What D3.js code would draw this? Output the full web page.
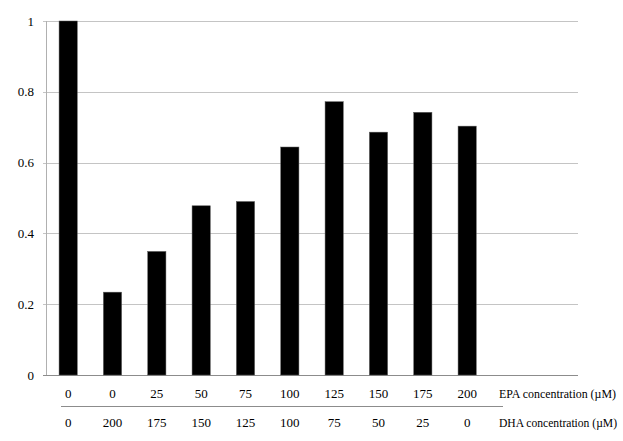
<!DOCTYPE html>
<html>
<head>
<meta charset="utf-8">
<script src="https://cdn.jsdelivr.net/npm/d3@7"></script>
</head>
<body style="margin:0">
<script>
// Data
const epa = ["0", "0", "25", "50", "75", "100", "125", "150", "175", "200"];
const dha = ["0", "200", "175", "150", "125", "100", "75", "50", "25", "0"];
const values = [1.0, 0.234, 0.349, 0.478, 0.490, 0.644, 0.772, 0.686, 0.742, 0.703];
const yTicks = [0, 0.2, 0.4, 0.6, 0.8, 1];

const width = 623, height = 441;
const plotLeft = 46, plotRight = 578, plotTop = 21, plotBottom = 375;
const font = '"Liberation Serif", "Times New Roman", serif';

const svg = d3.select("body").append("svg")
    .attr("width", width)
    .attr("height", height)
    .style("display", "block");

// 12 bands, only the first 10 hold bars
const slots = d3.range(12);
const x = d3.scaleBand().domain(slots).range([plotLeft, plotRight]).paddingInner(0.59).paddingOuter(0.295);
const y = d3.scaleLinear().domain([0, 1]).range([plotBottom, plotTop]);

// Grid lines
svg.append("g")
    .selectAll("line")
    .data(yTicks)
    .join("line")
    .attr("x1", plotLeft - 3)
    .attr("x2", plotRight)
    .attr("y1", d => Math.round(y(d)) + 0.5)
    .attr("y2", d => Math.round(y(d)) + 0.5)
    .attr("stroke", d => d === 0 ? "#8c8c8c" : "#c4c4c4")
    .attr("stroke-width", 1);

// Y axis line
svg.append("line")
    .attr("x1", plotLeft + 0.5).attr("x2", plotLeft + 0.5)
    .attr("y1", y(1)).attr("y2", y(0))
    .attr("stroke", "#b0b0b0");

// Y tick labels
svg.append("g")
    .selectAll("text")
    .data(yTicks)
    .join("text")
    .attr("x", 34)
    .attr("y", d => y(d))
    .attr("dy", "0.35em")
    .attr("text-anchor", "end")
    .attr("font-size", 13)
    .style("font-family", font)
    .text(d => d3.format("~g")(d));

// Bars
svg.append("g")
    .selectAll("rect")
    .data(values)
    .join("rect")
    .attr("x", (d, i) => x(i))
    .attr("width", x.bandwidth())
    .attr("y", d => y(d))
    .attr("height", d => y(0) - y(d))
    .attr("fill", "#000")
    .attr("stroke", "#555")
    .attr("stroke-width", 0.5);

// EPA row
svg.append("g")
    .selectAll("text")
    .data(epa)
    .join("text")
    .attr("x", (d, i) => x(i) + x.bandwidth() / 2)
    .attr("y", 398)
    .attr("text-anchor", "middle")
    .attr("font-size", 13)
    .style("font-family", font)
    .text(d => d);

// separator line between rows
svg.append("line")
    .attr("x1", 61).attr("x2", 503)
    .attr("y1", 406.5).attr("y2", 406.5)
    .attr("stroke", "#8c8c8c");

// DHA row
svg.append("g")
    .selectAll("text")
    .data(dha)
    .join("text")
    .attr("x", (d, i) => x(i) + x.bandwidth() / 2)
    .attr("y", 427)
    .attr("text-anchor", "middle")
    .attr("font-size", 13)
    .style("font-family", font)
    .text(d => d);

// row titles, held to the width they take in the reference
svg.append("text").attr("x", 499).attr("y", 398)
    .attr("font-size", 13)
    .attr("textLength", 117)
    .attr("lengthAdjust", "spacingAndGlyphs")
    .style("font-family", font)
    .text("EPA concentration (µM)");
svg.append("text").attr("x", 499).attr("y", 427)
    .attr("font-size", 13)
    .attr("textLength", 118)
    .attr("lengthAdjust", "spacingAndGlyphs")
    .style("font-family", font)
    .text("DHA concentration (µM)");
</script>
</body>
</html>
